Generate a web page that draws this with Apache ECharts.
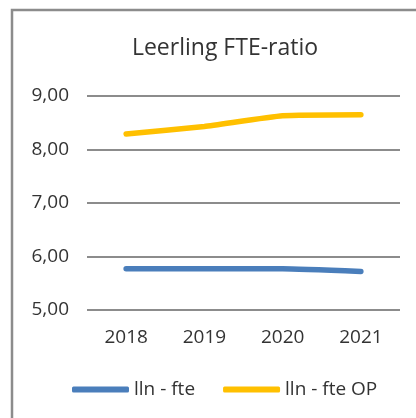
<!DOCTYPE html>
<html><head><meta charset="utf-8">
<script src="https://cdn.jsdelivr.net/npm/echarts@6/dist/echarts.min.js"></script>
<style>html,body{margin:0;padding:0;background:#fff}#c{width:416px;height:418px}</style>
</head><body><div id="c"></div>
<script>
const categories = ['2018', '2019', '2020', '2021'];
const llnFte = [5.77, 5.77, 5.77, 5.72];
const llnFteOP = [8.29, 8.43, 8.63, 8.65];
const yTicks = [5, 6, 7, 8, 9];

const chart = echarts.init(document.getElementById('c'), null, {renderer: 'canvas'});
const font = '"Open Sans", "Liberation Sans", sans-serif';
chart.setOption({
  animation: false,
  backgroundColor: '#fff',
  graphic: [{
    type: 'rect', shape: {x: 12, y: 10, width: 420, height: 420},
    style: {fill: 'none', stroke: '#8c8c8c', lineWidth: 2.5}, z: 0
  }],
  title: {
    text: 'Leerling FTE-ratio', left: 220, top: 32, textAlign: 'center',
    textStyle: {fontFamily: font, fontWeight: 'normal', fontSize: 23, color: '#333'}
  },
  legend: {
    top: 375, left: 67,
    itemWidth: 57, itemHeight: 6, itemGap: 28,
    icon: 'roundRect',
    textStyle: {fontFamily: font, fontSize: 19, color: '#333'},
    data: ['lln - fte', 'lln - fte OP']
  },
  grid: {left: 87, right: 16, top: 96, bottom: 108},
  xAxis: {
    type: 'category', data: categories, boundaryGap: true,
    axisLine: {show: false}, axisTick: {show: false},
    axisLabel: {fontFamily: font, fontSize: 19, color: '#333', margin: 18}
  },
  yAxis: {
    type: 'value', min: yTicks[0], max: yTicks[yTicks.length-1], interval: 1,
    axisLine: {show: false}, axisTick: {show: false},
    splitLine: {lineStyle: {color: '#8c8c8c', width: 2}},
    axisLabel: {fontFamily: font, fontSize: 19, color: '#333', margin: 18,
      formatter: v => v.toFixed(2).replace('.', ',')}
  },
  series: [
    {name: 'lln - fte', type: 'line', data: llnFte, symbol: 'none', smooth: 0.15,
     lineStyle: {color: '#4a7ebb', width: 5.5, cap: 'round'}, itemStyle: {color: '#4a7ebb'}},
    {name: 'lln - fte OP', type: 'line', data: llnFteOP, symbol: 'none', smooth: 0.15,
     lineStyle: {color: '#ffc000', width: 5.5, cap: 'round'}, itemStyle: {color: '#ffc000'}}
  ]
});
</script></body></html>
